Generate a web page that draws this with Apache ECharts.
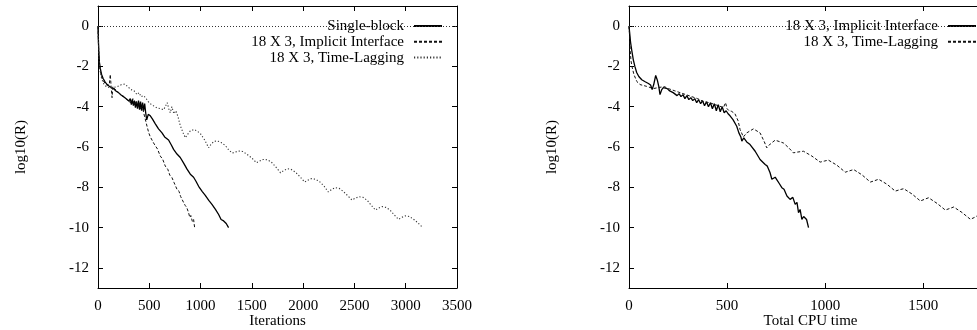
<!DOCTYPE html>
<html>
<head>
<meta charset="utf-8">
<script src="https://cdn.jsdelivr.net/npm/echarts@6/dist/echarts.min.js"></script>
<style>html,body{margin:0;padding:0;background:#fff}#c{width:977px;height:330px}</style>
</head>
<body>
<div id="c"></div>
<script>
// ---------- Left panel (Iterations) ----------
const leftXTicks = [0, 500, 1000, 1500, 2000, 2500, 3000, 3500];
const yTicks = [-12, -10, -8, -6, -4, -2, 0];

const leftSingleX = [0,4,8,14,22,35,50,70,90,110,130,150,175,200,225,250,275,300,315,325,335,345,355,365,375,385,395,405,415,425,435,445,455,465,475,490,510,530,559,590,624,650,688,715,737,770,802,835,868,900,932,955,981,1015,1046,1080,1111,1145,1176,1200,1225,1250,1273];
const leftSingleY = [0,-0.7,-1.3,-1.8,-2.1,-2.4,-2.6,-2.78,-2.9,-2.98,-3.05,-3.1,-3.22,-3.3,-3.42,-3.5,-3.6,-3.72,-3.6,-3.9,-3.65,-3.95,-3.7,-4.05,-3.75,-4.1,-3.7,-4.15,-3.75,-4.2,-3.8,-4.2,-3.85,-4.3,-4.65,-4.38,-4.45,-4.6,-4.85,-5.1,-5.3,-5.5,-5.65,-5.9,-6.12,-6.35,-6.52,-6.8,-7.1,-7.35,-7.5,-7.7,-7.95,-8.2,-8.4,-8.65,-8.85,-9.1,-9.35,-9.6,-9.67,-9.8,-10.0];

const leftImplicitX = [0,4,8,14,22,35,50,70,90,110,120,128,137,145,160,180,200,230,260,290,320,340,355,370,385,400,415,430,445,460,478,495,510,525,542,560,580,607,630,656,680,700,721,740,755,770,790,805,820,835,850,865,883,895,905,920,932,942];
const leftImplicitY = [0,-0.8,-1.4,-1.9,-2.2,-2.5,-2.7,-2.85,-2.95,-2.9,-2.4,-3.0,-3.55,-3.0,-3.1,-3.2,-3.3,-3.45,-3.55,-3.7,-3.8,-3.6,-3.95,-3.7,-4.0,-3.8,-4.1,-3.9,-4.3,-4.6,-4.97,-5.3,-5.5,-5.5,-5.8,-5.95,-6.1,-6.45,-6.6,-6.95,-7.1,-7.4,-7.52,-7.75,-7.7,-8.1,-8.2,-8.45,-8.5,-8.76,-8.9,-9.0,-9.26,-9.5,-9.4,-9.7,-9.6,-10.0];

const leftLagX = [0,5,10,20,35,55,80,110,150,190,230,260,290,320,350,380,400,420,445,470,490,510,540,575,610,640,660,675,690,705,720,740,760,780,803,830,852,870,900,935,970,1000,1040,1079,1100,1130,1165,1200,1240,1275,1310,1340,1370,1410,1450,1500,1545,1575,1610,1650,1690,1735,1780,1810,1845,1880,1925,1970,2015,2045,2080,2120,2160,2205,2245,2275,2310,2350,2390,2435,2475,2505,2545,2585,2625,2665,2705,2735,2770,2810,2850,2890,2930,2960,2995,3035,3075,3115,3160];
const leftLagY = [0,-0.9,-1.6,-2.2,-2.6,-2.85,-3.0,-3.05,-3.05,-3.0,-2.9,-2.88,-3.0,-3.15,-3.2,-3.4,-3.3,-3.5,-3.45,-3.6,-3.75,-3.85,-3.95,-4.06,-4.1,-4.15,-3.95,-3.8,-4.1,-4.3,-4.0,-4.35,-4.2,-4.5,-4.95,-5.3,-5.54,-5.4,-5.2,-5.13,-5.22,-5.35,-5.65,-6.04,-5.88,-5.72,-5.7,-5.78,-5.92,-6.15,-6.3,-6.25,-6.2,-6.22,-6.35,-6.55,-6.78,-6.7,-6.62,-6.63,-6.75,-7.0,-7.28,-7.17,-7.08,-7.1,-7.25,-7.48,-7.74,-7.65,-7.57,-7.6,-7.72,-7.95,-8.23,-8.12,-8.02,-8.05,-8.2,-8.42,-8.63,-8.55,-8.47,-8.5,-8.65,-8.9,-9.13,-9.03,-8.96,-9.0,-9.15,-9.38,-9.59,-9.5,-9.42,-9.45,-9.58,-9.75,-9.97];

// ---------- Right panel (Total CPU time) ----------
const rightXTicks = [0, 500, 1000, 1500];

const rightImplicitX = [0,3,8,14,22,30,39,50,65,80,99,110,118,126,136,145,152,158,167,175,185,195,205,215,225,235,245,255,265,275,285,295,305,315,325,335,345,355,365,375,385,395,405,415,425,435,445,455,465,475,485,495,505,515,530,549,560,570,575,585,600,617,643,668,694,705,719,728,736,745,753,765,779,790,805,821,835,847,856,864,872,881,890,898,905,915];
const rightImplicitY = [0,-0.3,-0.8,-1.2,-1.67,-2.0,-2.3,-2.5,-2.66,-2.75,-2.85,-2.92,-3.15,-2.9,-2.45,-2.7,-3.0,-3.4,-3.15,-3.05,-3.0,-3.1,-3.2,-3.15,-3.3,-3.25,-3.45,-3.35,-3.5,-3.4,-3.6,-3.45,-3.65,-3.55,-3.7,-3.6,-3.8,-3.65,-3.85,-3.7,-3.95,-3.75,-4.0,-3.8,-4.1,-3.85,-4.2,-3.9,-4.25,-4.0,-4.3,-4.2,-4.35,-4.45,-4.64,-4.97,-5.3,-5.5,-5.71,-5.55,-5.75,-5.88,-6.21,-6.62,-6.87,-6.95,-7.28,-7.6,-7.69,-7.5,-7.62,-7.8,-8.02,-8.1,-8.43,-8.6,-8.5,-8.85,-8.75,-9.26,-9.1,-9.59,-9.45,-9.5,-9.6,-10.0];

const rightLagX = [0,3,6,10,15,25,40,56,90,124,150,180,200,230,260,290,320,350,380,410,440,470,481,492,500,510,523,540,556,566,583,600,634,668,690,702,720,745,787,815,838,860,889,932,974,995,1016,1059,1102,1125,1145,1187,1230,1250,1272,1315,1357,1380,1400,1442,1485,1505,1527,1570,1612,1635,1655,1697,1740,1760,1774,1800,1820,1840];
const rightLagY = [0,-0.5,-1.2,-1.7,-2.0,-2.4,-2.75,-2.9,-2.99,-3.1,-3.05,-3.0,-3.1,-3.2,-3.3,-3.4,-3.5,-3.6,-3.75,-3.8,-3.9,-4.0,-4.05,-3.8,-4.1,-4.2,-4.23,-4.35,-4.7,-5.13,-5.5,-5.3,-5.1,-5.3,-5.75,-6.04,-5.85,-5.66,-5.8,-6.05,-6.29,-6.25,-6.21,-6.45,-6.75,-6.7,-6.65,-6.9,-7.25,-7.18,-7.12,-7.38,-7.74,-7.68,-7.6,-7.85,-8.19,-8.12,-8.07,-8.33,-8.68,-8.6,-8.52,-8.8,-9.13,-9.05,-8.98,-9.25,-9.59,-9.5,-9.42,-9.5,-9.7,-9.97];

// ---------- Names ----------
const leftNames = ['Single-block', '18 X 3, Implicit Interface', '18 X 3, Time-Lagging'];
const rightNames = ['18 X 3, Implicit Interface ', '18 X 3, Time-Lagging '];

function zip(xs, ys) { return xs.map((x, i) => [x, ys[i]]); }

const FONT = '"Liberation Serif", "Times New Roman", serif';
const ink = '#000';

function xAxes(gridIndex, max, ticks, name) {
  return [
    {
      type: 'value', gridIndex, min: 0, max, interval: 500, position: 'bottom',
      name, nameLocation: 'middle', nameGap: 26, nameMoveOverlap: false,
      nameTextStyle: { fontFamily: FONT, fontSize: 15, color: ink },
      axisLine: { show: true, onZero: false, lineStyle: { color: ink, width: 1 } },
      axisTick: { show: true, inside: true, length: 5, customValues: ticks, lineStyle: { color: ink } },
      axisLabel: { show: true, margin: 11, customValues: ticks, formatter: v => String(v), fontFamily: FONT, fontSize: 15, color: ink },
      splitLine: { show: false }
    },
    {
      type: 'value', gridIndex, min: 0, max, interval: 500, position: 'top',
      axisLine: { show: true, onZero: false, lineStyle: { color: ink, width: 1 } },
      axisTick: { show: true, inside: true, length: 5, customValues: ticks, lineStyle: { color: ink } },
      axisLabel: { show: false },
      splitLine: { show: false }
    }
  ];
}
function yAxes(gridIndex) {
  return [
    {
      type: 'value', gridIndex, min: -13, max: 1, position: 'left',
      name: 'log10(R)', nameLocation: 'middle', nameGap: 69, nameMoveOverlap: false,
      nameTextStyle: { fontFamily: FONT, fontSize: 15, color: ink },
      axisLine: { show: true, onZero: false, lineStyle: { color: ink, width: 1 } },
      axisTick: { show: true, inside: true, length: 5, customValues: yTicks, lineStyle: { color: ink } },
      axisLabel: { show: true, margin: 9, customValues: yTicks, formatter: v => String(v), fontFamily: FONT, fontSize: 15, color: ink },
      splitLine: { show: false }
    },
    {
      type: 'value', gridIndex, min: -13, max: 1, position: 'right',
      axisLine: { show: true, onZero: false, lineStyle: { color: ink, width: 1 } },
      axisTick: { show: true, inside: true, length: 5, customValues: yTicks, lineStyle: { color: ink } },
      axisLabel: { show: false },
      splitLine: { show: false }
    }
  ];
}

const solid = { color: '#000', width: 1.3, type: 'solid' };
const dashed = { color: '#111', width: 1, type: [3, 2] };
const dotted = { color: '#333', width: 1.1, type: [1.2, 2] };

function lineSeries(name, xi, yi, data, style, zero) {
  const s = {
    type: 'line', name, xAxisIndex: xi, yAxisIndex: yi, data,
    symbol: 'none', showSymbol: false, smooth: false, clip: true,
    lineStyle: style, itemStyle: { color: style.color },
    emphasis: { disabled: true }, silent: true
  };
  if (zero) {
    s.markLine = {
      silent: true, symbol: ['none', 'none'], label: { show: false },
      lineStyle: { color: '#333', width: 1, type: [1, 2] },
      emphasis: { disabled: true },
      data: [{ yAxis: 0 }]
    };
  }
  return s;
}

function legendItem(name, right, top) {
  return {
    data: [name], orient: 'vertical', align: 'right', right, top, padding: 0,
    itemWidth: 28, itemHeight: 14, selectedMode: false,
    itemStyle: { opacity: 0 },
    formatter: n => n.trim(),
    textStyle: { fontFamily: FONT, fontSize: 15, color: ink, padding: [0, 5, 0, 0] }
  };
}

const chart = echarts.init(document.getElementById('c'), null, { renderer: 'canvas' });
chart.setOption({
  animation: false,
  backgroundColor: '#fff',
  grid: [
    { left: 98, right: 520, top: 6, bottom: 42, outerBoundsMode: 'none', containLabel: false },
    { left: 629, right: -15, top: 6, bottom: 42, outerBoundsMode: 'none', containLabel: false }
  ],
  xAxis: [...xAxes(0, 3500, leftXTicks, 'Iterations'), ...xAxes(1, 1850, rightXTicks, 'Total CPU time')],
  yAxis: [...yAxes(0), ...yAxes(1)],
  legend: [
    legendItem(leftNames[0], 534, 18.5),
    legendItem(leftNames[1], 534, 34.3),
    legendItem(leftNames[2], 534, 50.1),
    legendItem(rightNames[0], 0, 18.5),
    legendItem(rightNames[1], 0, 34.3)
  ],
  series: [
    lineSeries(leftNames[0], 0, 0, zip(leftSingleX, leftSingleY), solid, true),
    lineSeries(leftNames[1], 0, 0, zip(leftImplicitX, leftImplicitY), dashed, false),
    lineSeries(leftNames[2], 0, 0, zip(leftLagX, leftLagY), dotted, false),
    lineSeries(rightNames[0], 2, 2, zip(rightImplicitX, rightImplicitY), solid, true),
    lineSeries(rightNames[1], 2, 2, zip(rightLagX, rightLagY), dashed, false)
  ]
});
</script>
</body>
</html>
